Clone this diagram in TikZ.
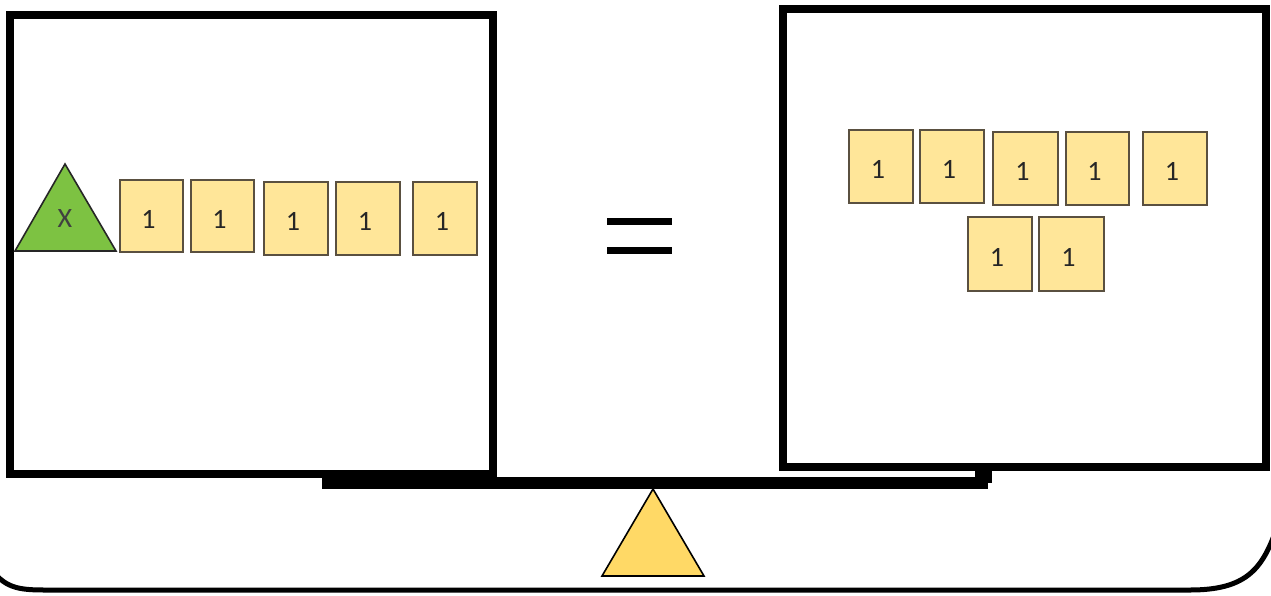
\documentclass[tikz,border=0pt]{standalone}
\usepackage{fontspec}
\setmainfont{Carlito}
\definecolor{tile}{HTML}{FFE699}
\definecolor{tileedge}{HTML}{5A5040}
\definecolor{xgreen}{HTML}{7DC242}
\definecolor{fulc}{HTML}{FFD966}
\begin{document}
\begin{tikzpicture}[x=1pt,y=-1pt,
  pan/.style={draw=black,line width=8pt,fill=white},
  tile/.style={draw=tileedge,fill=tile,line width=1.4pt,inner sep=0pt,font=\fontsize{28}{30}\selectfont,text=black!85,text height=24pt,text depth=0pt},
]
\useasboundingbox (0,0) rectangle (1271,595);
% base
\draw[line width=5pt] (-5,574) .. controls (8,588) and (20,590) .. (45,590) -- (1190,590) .. controls (1245,590) and (1262,570) .. (1276,530);
% beam
\fill (322,477) rectangle (988,489);
\fill (975,468) rectangle (992,483);
% pans
\draw[pan] (10,15) rectangle (493,474);
\draw[pan] (783,9) rectangle (1266,467);
% fulcrum
\coordinate (fa) at (653,489);
\coordinate (fl) at (602,576);
\coordinate (fr) at (704,576);
\filldraw[draw=black,fill=fulc,line width=1.6pt,line join=miter] (fa) -- (fr) -- (fl) -- cycle;
% X triangle
\coordinate (xa) at (65,164);
\coordinate (xl) at (15,251);
\coordinate (xr) at (116,251);
\filldraw[draw=black!85,fill=xgreen,line width=1.6pt] (xa) -- (xr) -- (xl) -- cycle;
\node[font=\fontsize{28}{30}\selectfont,text=black!75] (xlab) at (65,219) {X};
% left tiles
\node[tile,minimum width=63pt,minimum height=72pt] (l1) at (151.5,216) {1\kern6pt};
\node[tile,minimum width=63pt,minimum height=72pt] (l2) at (222.5,216) {1\kern6pt};
\node[tile,minimum width=64pt,minimum height=73pt] (l3) at (296,218.5) {1\kern6pt};
\node[tile,minimum width=64pt,minimum height=73pt] (l4) at (368,218.5) {1\kern6pt};
\node[tile,minimum width=64pt,minimum height=73pt] (l5) at (445,218.5) {1\kern6pt};
% equals
\fill (607,218) rectangle (672,225);
\fill (607,247) rectangle (672,254);
% right tiles
\node[tile,minimum width=64pt,minimum height=73pt] (r1) at (881,166.5) {1\kern6pt};
\node[tile,minimum width=64pt,minimum height=73pt] (r2) at (952,166.5) {1\kern6pt};
\node[tile,minimum width=65pt,minimum height=73pt] (r3) at (1025.5,168.5) {1\kern6pt};
\node[tile,minimum width=63pt,minimum height=73pt] (r4) at (1097.5,168.5) {1\kern6pt};
\node[tile,minimum width=64pt,minimum height=73pt] (r5) at (1175,168.5) {1\kern6pt};
\node[tile,minimum width=64pt,minimum height=74pt] (r6) at (1000,254) {1\kern6pt};
\node[tile,minimum width=65pt,minimum height=74pt] (r7) at (1071.5,254) {1\kern6pt};
\end{tikzpicture}
\end{document}
